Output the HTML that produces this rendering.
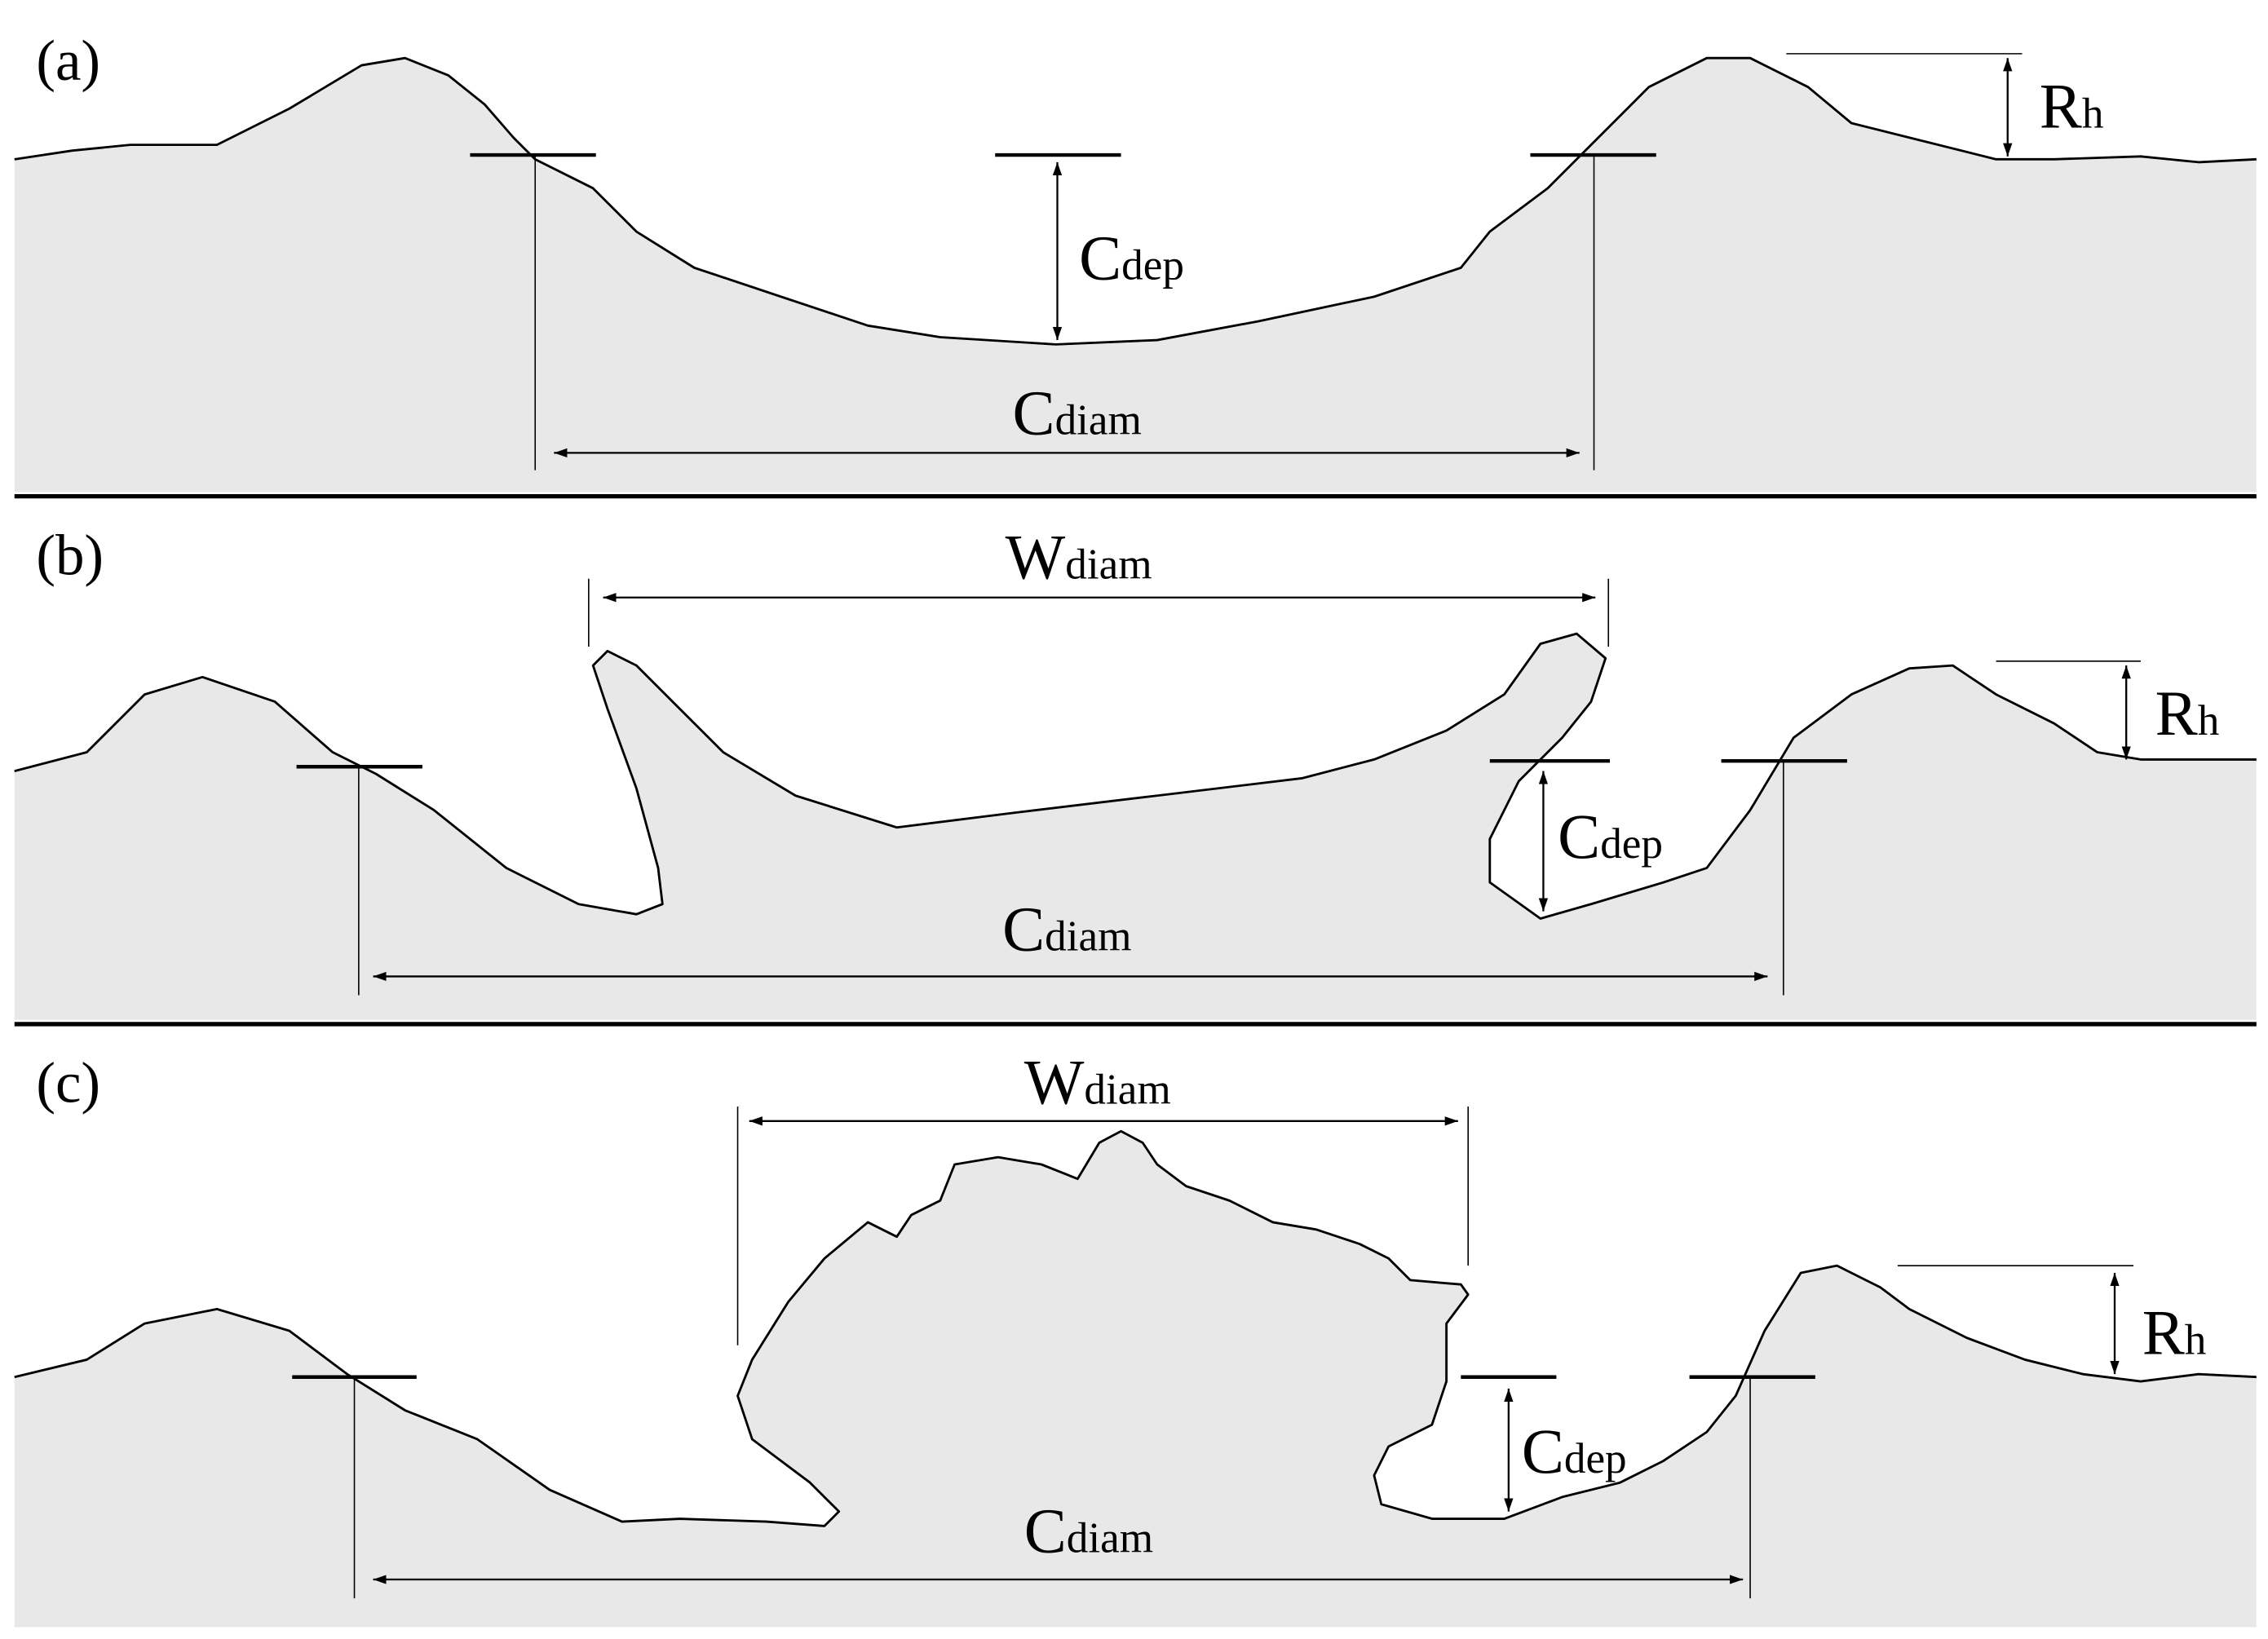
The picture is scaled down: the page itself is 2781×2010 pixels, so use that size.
<!DOCTYPE html>
<html><head><meta charset="utf-8"><style>
html,body{margin:0;padding:0;background:#fff}
svg{display:block}
text{font-family:"Liberation Serif",serif;fill:#000}
</style></head><body>
<svg width="2781" height="2010" viewBox="0 0 1568 1133" xmlns="http://www.w3.org/2000/svg">
<defs>
<marker id="ah" viewBox="0 0 10 10" refX="10" refY="5" markerWidth="7" markerHeight="7" orient="auto-start-reverse"><path d="M0,1.5 L10,5 L0,8.5 z" fill="#000"/></marker>
</defs>
<g stroke="#000" stroke-width="1.6" fill="#e8e8e8" stroke-linejoin="round">
<!-- panel a -->
<path d="M10,110 L50,104 90,100 150,100 200,75 250,45 280,40 310,52 335,72 355,95 370,110 410,130 440,160 480,185 540,205 600,225 650,233 730,238 800,235 870,222 950,205 1010,185 1030,160 1070,130 1100,100 1140,60 1180,40 1210,40 1250,60 1280,85 1320,95 1380,110 1420,110 1480,108 1520,112 1560,110 L1560,340 L10,340 Z" stroke="none"/>
<path fill="none" d="M10,110 L50,104 90,100 150,100 200,75 250,45 280,40 310,52 335,72 355,95 370,110 410,130 440,160 480,185 540,205 600,225 650,233 730,238 800,235 870,222 950,205 1010,185 1030,160 1070,130 1100,100 1140,60 1180,40 1210,40 1250,60 1280,85 1320,95 1380,110 1420,110 1480,108 1520,112 1560,110"/>
<!-- panel b -->
<path d="M10,533 L60,520 100,480 140,468 190,485 230,520 260,535 300,560 350,600 400,625 440,632 458,625 455,600 440,545 420,490 410,460 420,450 440,460 470,490 500,520 550,550 620,572 700,562 800,550 900,538 950,525 1000,505 1040,480 1065,445 1090,438 1110,455 1100,485 1080,510 1050,540 1030,580 1030,610 1065,635 1100,625 1150,610 1180,600 1210,560 1240,510 1280,480 1320,462 1350,460 1380,480 1420,500 1450,520 1480,525 1560,525 L1560,705 L10,705 Z" stroke="none"/>
<path fill="none" d="M10,533 L60,520 100,480 140,468 190,485 230,520 260,535 300,560 350,600 400,625 440,632 458,625 455,600 440,545 420,490 410,460 420,450 440,460 470,490 500,520 550,550 620,572 700,562 800,550 900,538 950,525 1000,505 1040,480 1065,445 1090,438 1110,455 1100,485 1080,510 1050,540 1030,580 1030,610 1065,635 1100,625 1150,610 1180,600 1210,560 1240,510 1280,480 1320,462 1350,460 1380,480 1420,500 1450,520 1480,525 1560,525"/>
<!-- panel c -->
<path d="M10,952 L60,940 100,915 150,905 200,920 240,950 280,975 330,995 380,1030 430,1052 470,1050 530,1052 570,1055 580,1045 560,1025 520,995 510,965 520,940 545,900 570,870 600,845 620,855 630,840 650,830 660,805 690,800 720,805 745,815 760,790 775,782 790,790 800,805 820,820 850,830 880,845 910,850 940,860 960,870 975,885 1010,888 1015,895 1000,915 1000,955 990,985 960,1000 950,1020 955,1040 990,1050 1040,1050 1080,1035 1120,1025 1150,1010 1180,990 1200,965 1220,920 1245,880 1270,875 1300,890 1320,905 1360,925 1400,940 1440,950 1480,955 1520,950 1560,952 L1560,1125 L10,1125 Z" stroke="none"/>
<path fill="none" d="M10,952 L60,940 100,915 150,905 200,920 240,950 280,975 330,995 380,1030 430,1052 470,1050 530,1052 570,1055 580,1045 560,1025 520,995 510,965 520,940 545,900 570,870 600,845 620,855 630,840 650,830 660,805 690,800 720,805 745,815 760,790 775,782 790,790 800,805 820,820 850,830 880,845 910,850 940,860 960,870 975,885 1010,888 1015,895 1000,915 1000,955 990,985 960,1000 950,1020 955,1040 990,1050 1040,1050 1080,1035 1120,1025 1150,1010 1180,990 1200,965 1220,920 1245,880 1270,875 1300,890 1320,905 1360,925 1400,940 1440,950 1480,955 1520,950 1560,952"/>
</g>
<line x1="10" y1="343" x2="1560" y2="343" stroke="#000" stroke-width="3"/>
<line x1="10" y1="708" x2="1560" y2="708" stroke="#000" stroke-width="3"/>
<g stroke="#000" stroke-width="2.5">
<line x1="325" y1="107" x2="412" y2="107"/><line x1="688" y1="107" x2="775" y2="107"/><line x1="1058" y1="107" x2="1145" y2="107"/>
<line x1="205" y1="530" x2="292" y2="530"/><line x1="1030" y1="526" x2="1113" y2="526"/><line x1="1190" y1="526" x2="1277" y2="526"/>
<line x1="202" y1="952" x2="288" y2="952"/><line x1="1010" y1="952" x2="1076" y2="952"/><line x1="1168" y1="952" x2="1255" y2="952"/>
</g>
<g stroke="#000" stroke-width="0.9">
<line x1="370" y1="107" x2="370" y2="325"/><line x1="1102" y1="107" x2="1102" y2="325"/>
<line x1="1235" y1="37" x2="1398" y2="37"/>
<line x1="248" y1="530" x2="248" y2="688"/><line x1="1233" y1="526" x2="1233" y2="688"/>
<line x1="407" y1="400" x2="407" y2="447"/><line x1="1112" y1="400" x2="1112" y2="447"/>
<line x1="1380" y1="457" x2="1480" y2="457"/>
<line x1="245" y1="952" x2="245" y2="1105"/><line x1="1210" y1="952" x2="1210" y2="1105"/>
<line x1="510" y1="765" x2="510" y2="930"/><line x1="1015" y1="765" x2="1015" y2="875"/>
<line x1="1312" y1="875" x2="1475" y2="875"/>
</g>
<g stroke="#000" stroke-width="1.3" marker-start="url(#ah)" marker-end="url(#ah)">
<line x1="383" y1="313" x2="1092" y2="313"/>
<line x1="731" y1="112" x2="731" y2="235"/>
<line x1="1388" y1="40" x2="1388" y2="108"/>
<line x1="258" y1="675" x2="1222" y2="675"/>
<line x1="417" y1="413" x2="1103" y2="413"/>
<line x1="1067" y1="533" x2="1067" y2="630"/>
<line x1="1470" y1="460" x2="1470" y2="525"/>
<line x1="258" y1="1092" x2="1205" y2="1092"/>
<line x1="518" y1="775" x2="1008" y2="775"/>
<line x1="1043" y1="960" x2="1043" y2="1045"/>
<line x1="1462" y1="880" x2="1462" y2="950"/>
</g>
<g font-size="40">
<text x="25" y="55">(a)</text><text x="25" y="397">(b)</text><text x="25" y="762">(c)</text>
</g>
<g font-size="44">
<text x="700" y="300">C<tspan font-size="30">diam</tspan></text>
<text x="746" y="193">C<tspan font-size="30">dep</tspan></text>
<text x="1410" y="88">R<tspan font-size="30">h</tspan></text>
<text x="695" y="400">W<tspan font-size="30">diam</tspan></text>
<text x="693" y="657">C<tspan font-size="30">diam</tspan></text>
<text x="1077" y="593">C<tspan font-size="30">dep</tspan></text>
<text x="1490" y="508">R<tspan font-size="30">h</tspan></text>
<text x="708" y="763">W<tspan font-size="30">diam</tspan></text>
<text x="708" y="1073">C<tspan font-size="30">diam</tspan></text>
<text x="1052" y="1018">C<tspan font-size="30">dep</tspan></text>
<text x="1481" y="936">R<tspan font-size="30">h</tspan></text>
</g>
</svg>
</body></html>
